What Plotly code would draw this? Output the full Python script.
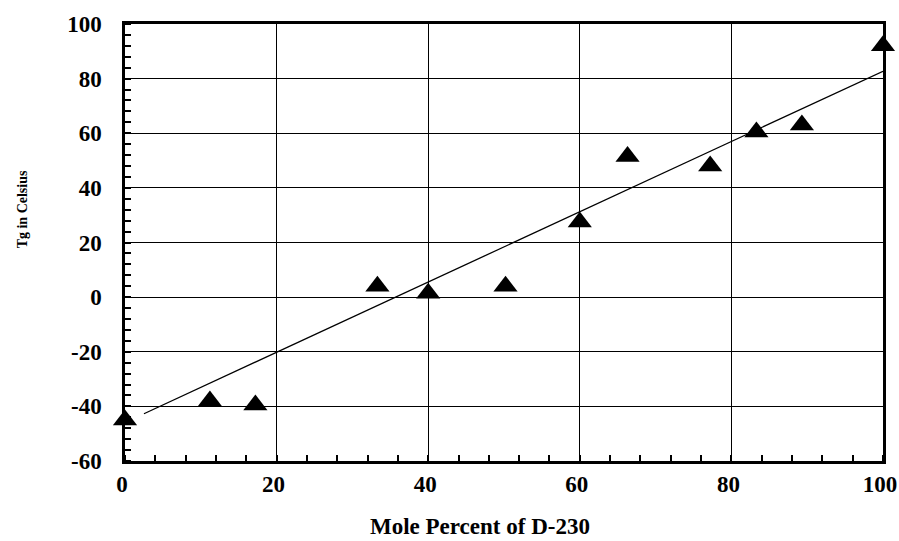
import plotly.graph_objects as go

# Data
mole_pct = [0, 11.2, 17.2, 33.3, 40, 50.2, 60, 66.3, 77.2, 83.3, 89.3, 100]
tg_c = [-45, -38, -39.5, 4, 1.4, 4, 27.5, 51.5, 48, 60.5, 63, 92]

fit_x = [2.5, 100]
fit_y = [-42.7, 82.7]

x_ticks = [0, 20, 40, 60, 80, 100]
y_ticks = [-60, -40, -20, 0, 20, 40, 60, 80, 100]
y_tick_text = ["-60", "-40", "-20", "0", "20", "40", "60", "80", "100"]

FONT = "Liberation Serif"

PL, PR, PT, PB = 125, 883.5, 23.5, 461  # plot area in page pixels
W, H = 899, 541

fig = go.Figure()
fig.add_trace(go.Scatter(x=fit_x, y=fit_y, mode="lines",
                         line=dict(color="black", width=1.3),
                         showlegend=False, hoverinfo="skip"))
fig.add_trace(go.Scatter(x=mole_pct, y=tg_c, mode="markers",
                         marker=dict(symbol="triangle-up", size=21, color="black"),
                         cliponaxis=False, showlegend=False))

axis_common = dict(
    showline=True, linecolor="black", linewidth=2.5, mirror=True,
    showgrid=True, gridcolor="black", gridwidth=1.4,
    zeroline=False, ticks="", automargin=False,
    tickfont=dict(family=FONT, size=23, color="black", weight="bold"),
    minor=dict(ticks="inside", ticklen=6, tickwidth=1.5, tickcolor="black", dtick=4, showgrid=False),
)

fig.update_xaxes(range=[0, 100], tickvals=x_ticks, ticklabelstandoff=1,
                 ticklabelshift=-3, **axis_common)
fig.update_yaxes(range=[-60, 100], tickvals=y_ticks, ticktext=y_tick_text,
                 ticklabelstandoff=16, **axis_common)

pw, ph = PR - PL, PB - PT
fig.add_annotation(text="<b>Mole Percent of D-230</b>", xref="paper", yref="paper",
                   x=(480 - PL) / pw, y=-(527 - PB) / ph, showarrow=False,
                   xanchor="center", yanchor="middle",
                   font=dict(family=FONT, size=23, color="black"))
fig.add_annotation(text="<b>Tg in Celsius</b>", xref="paper", yref="paper",
                   x=-(PL - 22) / pw, y=(PB - 209) / ph, showarrow=False, textangle=-90,
                   xanchor="center", yanchor="middle",
                   font=dict(family=FONT, size=14, color="black"))

fig.update_layout(
    width=W, height=H,
    margin=dict(l=PL, r=W - PR, t=PT, b=H - PB),
    paper_bgcolor="white", plot_bgcolor="white",
)

fig.write_html(
    "out.html",
    config={"displayModeBar": False},
    post_script="document.body.style.margin='0';document.body.style.overflow='hidden';",
)
